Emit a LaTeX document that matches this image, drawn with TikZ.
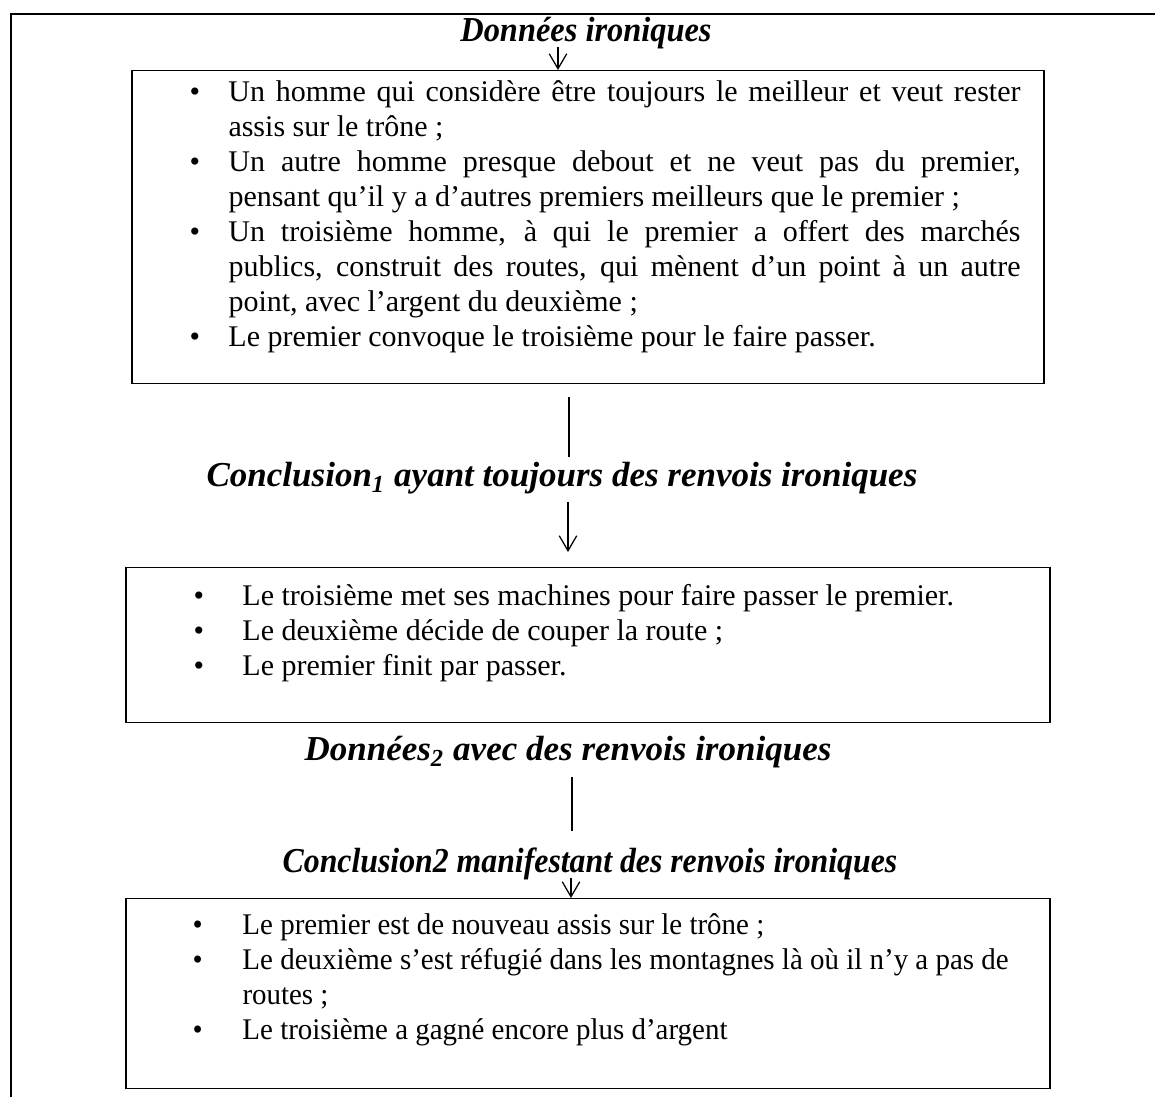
\documentclass[tikz,border=0pt]{standalone}
\usepackage{graphicx}
\usepackage{fontspec}
\setmainfont{Liberation Serif}
\newfontfamily\narrowserif[FakeStretch=0.965]{Liberation Serif}
\usetikzlibrary{arrows.meta}

% one bulleted entry with a hanging indent of #1
\newcommand{\listentry}[2]{%
  \hangindent=#1\hangafter=1\noindent\makebox[#1][l]{\textbullet}#2\par}

\begin{document}
\begin{tikzpicture}[x=0.4pt,y=-0.4pt,
  frame/.style={line width=0.8pt},
  panel/.style={draw, line width=0.6pt, anchor=north west, inner sep=0pt},
  listtext/.style={anchor=base west, inner sep=0pt,
    font=\fontsize{12}{14}\selectfont},
  heading/.style={anchor=base, inner sep=0pt,
    font=\fontsize{14}{16}\selectfont\bfseries\itshape},
  link/.style={line width=0.5pt},
  arr/.style={line width=0.5pt, -{Straight Barb[length=6pt,width=7pt]}}]

\useasboundingbox (0,0) rectangle (1155,1097);

% page frame
\draw[frame] (11,1097) -- (11,14) -- (1155,14);

% headings
\node[heading] (t1) at (586,42) {\scalebox{0.926}[1]{Données ironiques}};
\node[heading] (t2) at (562,487) {Conclusion\textsubscript{1} ayant toujours des renvois ironiques};
\node[heading] (t3) at (568,761) {Données\textsubscript{2} avec des renvois ironiques};
\node[heading] (t4) at (590,873) {\scalebox{0.908}[1]{Conclusion2 manifestant des renvois ironiques}};

% panels
\node[panel, minimum width=364.8pt, minimum height=125.2pt] (b1) at (131,70) {};
\node[panel, minimum width=369.6pt, minimum height=62pt] (b2) at (125,567) {};
\node[panel, minimum width=369.6pt, minimum height=76pt] (b3) at (125,898) {};

% panel contents
\node[listtext, text width=332.4pt, align=justify] (l1) at (189,102) {%
  \listentry{15.6pt}{Un homme qui considère être toujours le meilleur et veut rester\linebreak assis sur le trône ;}%
  \listentry{15.6pt}{Un autre homme presque debout et ne veut pas du premier,\linebreak pensant qu’il y a d’autres premiers meilleurs que le premier ;}%
  \listentry{15.6pt}{Un troisième homme, à qui le premier a offert des marchés\linebreak publics, construit des routes, qui mènent d’un point à un autre\linebreak point, avec l’argent du deuxième ;}%
  \listentry{15.6pt}{Le premier convoque le troisième pour le faire passer.}};

\node[listtext, text width=340pt, align=flush left] (l2) at (193,606) {%
  \listentry{19.6pt}{Le troisième met ses machines pour faire passer le premier.}%
  \listentry{19.6pt}{Le deuxième décide de couper la route ;}%
  \listentry{19.6pt}{Le premier finit par passer.}};

\node[listtext, text width=340pt, align=flush left, font=\fontsize{12}{14}\narrowserif] (l3) at (192,935) {%
  \listentry{20pt}{Le premier est de nouveau assis sur le trône ;}%
  \listentry{20pt}{Le deuxième s’est réfugié dans les montagnes là où il n’y a pas de\newline routes ;}%
  \listentry{20pt}{Le troisième a gagné encore plus d’argent}};

% connectors
\coordinate (s1) at (558,47);
\draw[arr] (s1) -- (s1 |- b1.north);

\coordinate (s2) at (569,397);
\coordinate (e2) at (569,457);
\draw[link] (s2) -- (e2);

\coordinate (s3) at (568,502);
\coordinate (e3) at (568,552);
\draw[arr] (s3) -- (e3);

\coordinate (s4) at (572,777);
\coordinate (e4) at (572,831);
\draw[link] (s4) -- (e4);

\coordinate (s5) at (571,878);
\draw[arr] (s5) -- (s5 |- b3.north);
\end{tikzpicture}
\end{document}
